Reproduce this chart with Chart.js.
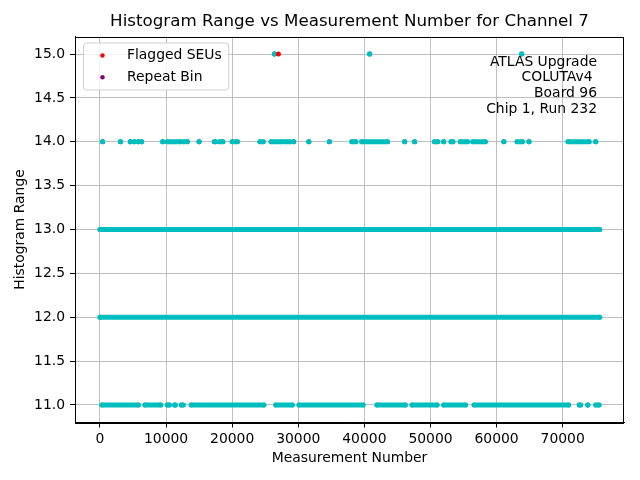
<!DOCTYPE html>
<html>
<head>
<meta charset="utf-8">
<script src="https://cdn.jsdelivr.net/npm/chart.js@4.4.1/dist/chart.umd.min.js"></script>
<style>
  html, body { margin: 0; padding: 0; background: #fff; }
  #wrap { width: 640px; height: 480px; }
</style>
</head>
<body>
<div id="wrap"><canvas id="rangeChart" width="640" height="480"></canvas></div>
<script>
// runs of consecutive measurements [first, last] sitting at each histogram range
const range11Runs = [[300, 5800], [6800, 9200], [10200, 10500], [11300, 11400], [12300, 12600],
  [13800, 24800], [26600, 29100], [30100, 39800], [41900, 46200], [47200, 51000],
  [52000, 55300], [56600, 70900], [72500, 72700], [73800, 73800], [75000, 75500]];
const range12Runs = [[0, 75600]];
const range13Runs = [[0, 75600]];
const range14Runs = [[400, 400], [3100, 3100], [4600, 4600], [5200, 5200], [5800, 5800], [6300, 6300],
  [9500, 9500], [10200, 12200], [12700, 12700], [13200, 13200], [15000, 15000], [17300, 17500],
  [18100, 18600], [20000, 20800], [24200, 24700], [25900, 27500], [28000, 28800], [29300, 29300],
  [31600, 31600], [34700, 34700], [38100, 38700], [39600, 43500], [46100, 46100], [47600, 47600],
  [50600, 51100], [52000, 52000], [53100, 53400], [54500, 55600], [56400, 58300], [61100, 61100],
  [63100, 63900], [64900, 64900], [70800, 74000], [75000, 75000]];
const range15Runs = [[26400, 26400], [40800, 40800], [63800, 63800]];

const flaggedSEUs = [{x: 27000, y: 15}];
const repeatBins = [];

const xTicks = [0, 10000, 20000, 30000, 40000, 50000, 60000, 70000];
const yTicks = [11, 11.5, 12, 12.5, 13, 13.5, 14, 14.5, 15];
const infoLines = ['ATLAS Upgrade', 'COLUTAv4 ', ' Board 96', 'Chip 1, Run 232'];

const CYAN = 'rgb(0,190,190)';
const FONT = "'DejaVu Sans', sans-serif";

function runsToPoints(runs, level) {
    const pts = [];
    runs.forEach(function (r) {
        pts.push({x: r[0], y: level}, {x: r[1], y: level}, {x: r[1], y: null});
    });
    return pts;
}

function rangeDataset(runs, level) {
    return {
        label: 'range ' + level,
        data: runsToPoints(runs, level),
        showLine: true,
        spanGaps: false,
        borderColor: CYAN,
        borderWidth: 5,
        borderCapStyle: 'round',
        pointRadius: 2.5,
        pointBackgroundColor: CYAN,
        pointBorderWidth: 0,
        pointHoverRadius: 2.5
    };
}

const legendItems = [
    {text: 'Flagged SEUs', color: 'red'},
    {text: 'Repeat Bin', color: 'purple'}
];

// title, frame, legend box and run info text
const decorations = {
    id: 'decorations',
    afterDatasetsDraw(chart) {
        const {ctx, chartArea: a} = chart;
        ctx.save();
        ctx.strokeStyle = '#000';
        ctx.lineWidth = 1;
        ctx.strokeRect(Math.round(a.left) + 0.5, Math.round(a.top) + 0.5,
            Math.round(a.right - a.left) - 1, Math.round(a.bottom - a.top));
        ctx.restore();
    },
    afterDraw(chart) {
        const {ctx, chartArea: a} = chart;
        ctx.save();
        ctx.fillStyle = '#000';
        ctx.textBaseline = 'middle';

        ctx.font = '16.7px ' + FONT;
        ctx.textAlign = 'center';
        ctx.fillText('Histogram Range vs Measurement Number for Channel 7', (a.left + a.right) / 2, 22);

        // legend
        ctx.font = '13.9px ' + FONT;
        let w = 0;
        legendItems.forEach(function (it) { w = Math.max(w, ctx.measureText(it.text).width); });
        const bx = 83, by = a.top + 6, bw = 44.5 + w + 6, bh = 47;
        ctx.beginPath();
        ctx.roundRect(bx + 0.5, by + 0.5, bw, bh, 3);
        ctx.fillStyle = 'rgba(255,255,255,0.8)';
        ctx.fill();
        ctx.strokeStyle = '#d0d0d0';
        ctx.lineWidth = 1;
        ctx.stroke();
        legendItems.forEach(function (it, i) {
            const cy = by + 13 + i * 21.7;
            ctx.beginPath();
            ctx.arc(bx + 19.5, cy, 2.2, 0, Math.PI * 2);
            ctx.fillStyle = it.color;
            ctx.fill();
            ctx.fillStyle = '#000';
            ctx.textAlign = 'left';
            ctx.fillText(it.text, bx + 44, cy);
        });

        // run info
        ctx.textAlign = 'right';
        infoLines.forEach(function (line, i) {
            ctx.fillText(line, 597, 62 + i * 15.8);
        });
        ctx.restore();
    }
};

const ctx = document.getElementById('rangeChart');
const rangeChart = new Chart(ctx, {
    type: 'scatter',
    data: {
        datasets: [
            {label: 'Flagged SEUs', data: flaggedSEUs, pointRadius: 2.5, pointBackgroundColor: 'red', pointBorderWidth: 0},
            {label: 'Repeat Bin', data: repeatBins, pointRadius: 2.5, pointBackgroundColor: 'purple', pointBorderWidth: 0},
            rangeDataset(range15Runs, 15),
            rangeDataset(range14Runs, 14),
            rangeDataset(range13Runs, 13),
            rangeDataset(range12Runs, 12),
            rangeDataset(range11Runs, 11)
        ]
    },
    options: {
        responsive: false,
        animation: false,
        devicePixelRatio: 1,
        layout: {padding: {top: 36.5, right: 16, left: 0, bottom: 0}},
        plugins: {
            legend: {display: false},
            title: {display: false},
            tooltip: {enabled: false}
        },
        scales: {
            x: {
                type: 'linear',
                min: -3775,
                max: 79275,
                afterBuildTicks: function (scale) { scale.ticks = xTicks.map(v => ({value: v})); },
                afterFit: function (scale) { scale.height = 57.5; },
                grid: {color: '#b0b0b0', lineWidth: 0.8, tickLength: 5, tickColor: '#000', tickWidth: 1},
                border: {display: true, color: '#000', width: 1},
                ticks: {
                    color: '#000',
                    padding: 4,
                    maxRotation: 0,
                    font: {family: FONT, size: 13.9},
                    callback: function (v) { return String(v); }
                },
                title: {
                    display: true,
                    text: 'Measurement Number',
                    color: '#000',
                    font: {family: FONT, size: 13.9},
                    padding: {top: 0, bottom: 13.5}
                }
            },
            y: {
                min: 10.8,
                max: 15.2,
                afterBuildTicks: function (scale) { scale.ticks = yTicks.map(v => ({value: v})); },
                afterFit: function (scale) { scale.width = 75; },
                grid: {color: '#b0b0b0', lineWidth: 0.8, tickLength: 5, tickColor: '#000', tickWidth: 1},
                border: {display: true, color: '#000', width: 1},
                ticks: {
                    color: '#000',
                    padding: 5,
                    font: {family: FONT, size: 13.9},
                    callback: function (v) { return v.toFixed(1); }
                },
                title: {
                    display: true,
                    text: 'Histogram Range',
                    color: '#000',
                    font: {family: FONT, size: 13.9},
                    padding: {top: 12.5, bottom: 0}
                }
            }
        }
    },
    plugins: [decorations]
});
</script>
</body>
</html>
